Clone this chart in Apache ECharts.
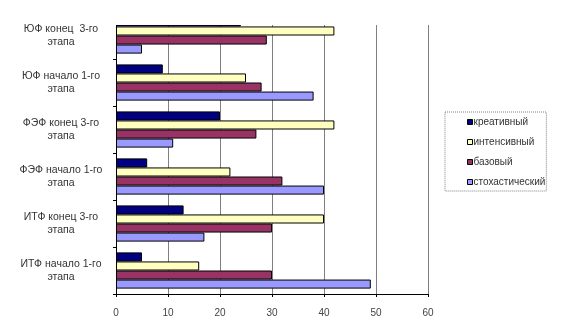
<!DOCTYPE html>
<html><head><meta charset="utf-8">
<script src="https://cdn.jsdelivr.net/npm/echarts@6/dist/echarts.min.js"></script>
<style>html,body{margin:0;padding:0;background:#fff}#c{width:568px;height:331px}</style>
</head><body><div id="c"></div>
<script>
const categories = ['ИТФ начало 1-го этапа','ИТФ конец 3-го этапа','ФЭФ начало 1-го этапа','ФЭФ конец 3-го этапа','ЮФ начало 1-го этапа','ЮФ конец  3-го этапа'];
const categoryLabels = ['ИТФ начало 1-го\nэтапа','ИТФ конец 3-го\nэтапа','ФЭФ начало 1-го\nэтапа','ФЭФ конец 3-го\nэтапа','ЮФ начало 1-го\nэтапа','ЮФ конец  3-го\nэтапа'];
const kreativ = [5, 13, 6, 20, 9, 24];
const intensiv = [16, 40, 22, 42, 25, 42];
const bazov = [30, 30, 32, 27, 28, 29];
const stoch = [49, 17, 40, 11, 38, 5];
const seriesNames = ['креативный','интенсивный','базовый','стохастический'];
const xTicks = [0, 10, 20, 30, 40, 50, 60];

const colors = ['#000080','#FFFFC0','#993366','#9999FF'];
const data = [kreativ, intensiv, bazov, stoch];
const chart = echarts.init(document.getElementById('c'));
chart.setOption({
  animation: false,
  grid: {left: 116, right: 140, top: 12, bottom: 37},
  legend: {
    orient: 'vertical', left: 445, top: 112,
    data: seriesNames,
    itemWidth: 5, itemHeight: 5, itemGap: 10,
    icon: 'rect',
    padding: [5, 1, 4, 22],
    borderColor: '#808080', borderWidth: 1, borderType: 'dotted',
    itemStyle: {borderColor: '#000', borderWidth: 1},
    textStyle: {fontFamily: 'Liberation Sans', fontSize: 10, color: '#333', padding: [0,0,0,-4]}
  },
  xAxis: {
    type: 'value', min: 0, max: 60, interval: 10,
    axisLine: {show: true, lineStyle: {color: '#000'}},
    axisTick: {show: true, length: 3, lineStyle: {color: '#000'}},
    axisLabel: {fontFamily: 'Liberation Sans', fontSize: 10, color: '#444', margin: 14,
      formatter: v => String(xTicks[xTicks.indexOf(v)])},
    splitLine: {show: true, lineStyle: {color: '#808080'}}
  },
  yAxis: {
    type: 'category', data: categories,
    axisLine: {show: true, lineStyle: {color: '#000'}},
    axisTick: {show: true, length: 3, lineStyle: {color: '#000'}},
    axisLabel: {fontFamily: 'Liberation Sans', fontSize: 10.5, color: '#333', margin: 14,
      formatter: (v, i) => '{a|' + categoryLabels[i].split('\n').join('}\n{a|') + '}',
      rich: {a: {width: 82, align: 'center', fontFamily: 'Liberation Sans', fontSize: 10.5, color: '#333', lineHeight: 13}}}
  },
  series: data.map((d, i) => ({
    name: seriesNames[i], type: 'bar', data: d,
    barGap: '0%', barCategoryGap: '23%',
    itemStyle: {color: colors[i], borderColor: '#000', borderWidth: 1}
  })),
  graphic: [{type: 'rect', shape: {x: 108, y: 0, width: 340, height: 25}, style: {fill: '#fff'}, z: 100}]
});
</script></body></html>
